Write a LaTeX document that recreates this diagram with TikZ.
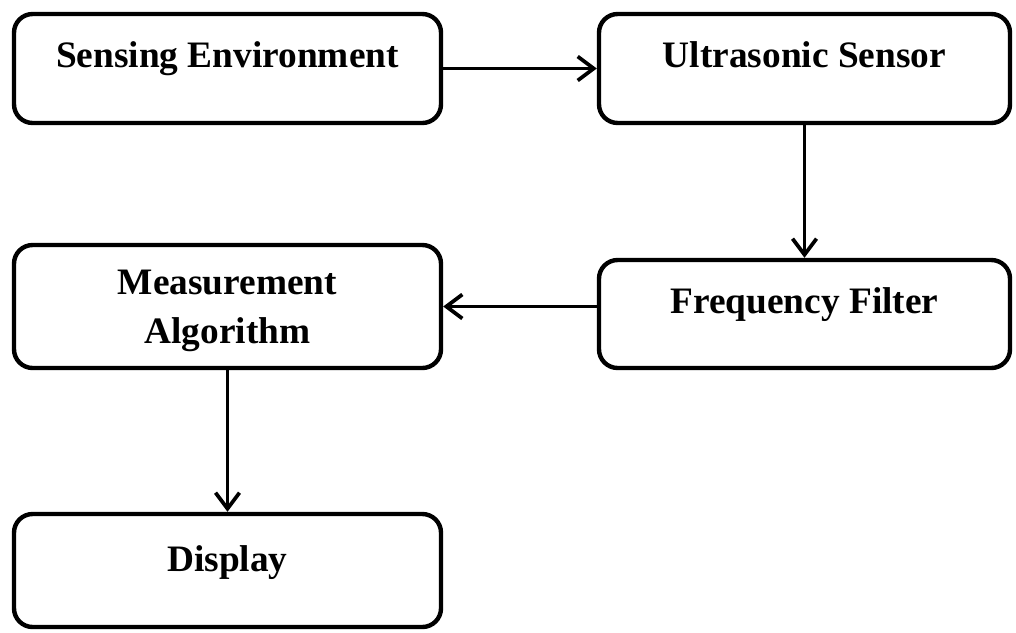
\documentclass[tikz,border=0pt]{standalone}
\usepackage{fontspec}
\setmainfont{Liberation Serif}
\usetikzlibrary{arrows.meta}
\begin{document}
\begin{tikzpicture}[x=0.75pt,y=-0.75pt,
  box/.style={draw=black, line width=3.3pt, rounded corners=14pt, inner sep=0pt, fill=white},
  lbl/.style={font=\fontsize{28}{37}\selectfont\bfseries, inner sep=0pt, align=center},
  arr/.style={line width=2.8pt, -{Straight Barb[length=12pt,width=18pt,line width=2.8pt]}}]
\useasboundingbox[fill=white] (0,0) rectangle (1016,632);
% boxes
\node[box, minimum width=320.25pt, minimum height=81.75pt] (se) at (227.5,68.5) {};
\node[box, minimum width=308.25pt, minimum height=81.75pt] (us) at (804.5,68.5) {};
\node[box, minimum width=320.25pt, minimum height=92.25pt] (ma) at (227.5,306.5) {};
\node[box, minimum width=308.25pt, minimum height=81pt] (ff) at (804.5,314) {};
\node[box, minimum width=320.25pt, minimum height=84.75pt] (di) at (227.5,570.5) {};
% labels
\node[lbl, anchor=base] (set) at (227.5,67) {Sensing Environment};
\node[lbl, anchor=base] (ust) at (804.5,67) {Ultrasonic Sensor};
\node[lbl, anchor=base] (fft) at (804.5,313) {Frequency Filter};
\node[lbl] (mat) at (227.5,311) {Measurement\\Algorithm};
\node[lbl, anchor=base] (dit) at (227.5,571) {Display};
% connectors
\draw[arr] (se.east) -- (us.west);
\draw[arr] (us.south) -- (ff.north);
\draw[arr] (ma.east -| ff.west) -- (ma.east);
\draw[arr] (ma.south) -- (di.north);
\end{tikzpicture}
\end{document}
